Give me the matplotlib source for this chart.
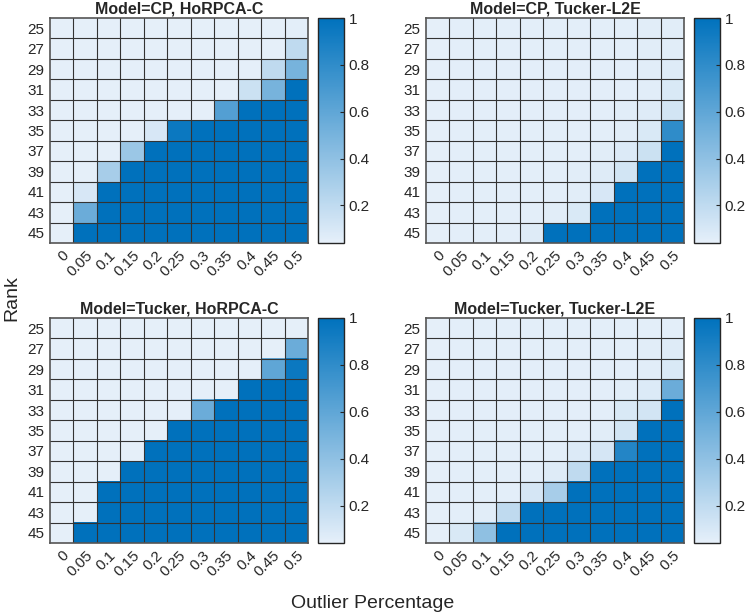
import numpy as np
import matplotlib
matplotlib.use("Agg")
import matplotlib.pyplot as plt
from matplotlib.colors import LinearSegmentedColormap

plt.rcParams['font.family'] = ['Liberation Sans', 'DejaVu Sans']

ranks = [25, 27, 29, 31, 33, 35, 37, 39, 41, 43, 45]
outliers = ['0', '0.05', '0.1', '0.15', '0.2', '0.25', '0.3', '0.35', '0.4', '0.45', '0.5']

# success rate, rows = rank, cols = outlier percentage
cp_horpca = [
    [.04, .04, .04, .04, .04, .04, .04, .04, .04, .04, .05],
    [.04, .04, .04, .04, .04, .04, .04, .04, .04, .04, .20],
    [.04, .04, .04, .04, .04, .04, .04, .04, .04, .20, .50],
    [.04, .04, .04, .04, .04, .04, .04, .04, .15, .50, 1.0],
    [.04, .04, .04, .04, .04, .04, .04, .65, 1.0, 1.0, 1.0],
    [.04, .04, .04, .04, .10, .95, 1.0, 1.0, 1.0, 1.0, 1.0],
    [.04, .04, .04, .35, 1.0, 1.0, 1.0, 1.0, 1.0, 1.0, 1.0],
    [.04, .04, .30, 1.0, 1.0, 1.0, 1.0, 1.0, 1.0, 1.0, 1.0],
    [.04, .10, 1.0, 1.0, 1.0, 1.0, 1.0, 1.0, 1.0, 1.0, 1.0],
    [.04, .55, 1.0, 1.0, 1.0, 1.0, 1.0, 1.0, 1.0, 1.0, 1.0],
    [.04, 1.0, 1.0, 1.0, 1.0, 1.0, 1.0, 1.0, 1.0, 1.0, 1.0],
]
cp_l2e = [
    [.04, .05, .05, .05, .05, .05, .05, .05, .05, .06, .06],
    [.04, .05, .05, .05, .05, .05, .05, .05, .05, .06, .06],
    [.04, .05, .05, .05, .05, .05, .05, .05, .05, .06, .07],
    [.04, .05, .05, .05, .05, .05, .05, .05, .05, .06, .09],
    [.04, .05, .05, .05, .05, .05, .05, .05, .06, .07, .12],
    [.04, .05, .05, .05, .05, .05, .05, .05, .06, .09, .80],
    [.04, .05, .05, .05, .05, .05, .05, .06, .08, .15, 1.0],
    [.04, .05, .05, .05, .05, .05, .06, .07, .12, 1.0, 1.0],
    [.04, .05, .05, .05, .05, .05, .06, .10, 1.0, 1.0, 1.0],
    [.04, .05, .05, .05, .05, .06, .09, 1.0, 1.0, 1.0, 1.0],
    [.04, .05, .05, .05, .07, 1.0, 1.0, 1.0, 1.0, 1.0, 1.0],
]
tk_horpca = [
    [.04, .04, .04, .04, .04, .04, .04, .04, .04, .04, .04],
    [.04, .04, .04, .04, .04, .04, .04, .04, .04, .04, .55],
    [.04, .04, .04, .04, .04, .04, .04, .04, .04, .60, .95],
    [.04, .04, .04, .04, .04, .04, .04, .04, 1.0, 1.0, 1.0],
    [.04, .04, .04, .04, .04, .04, .55, 1.0, 1.0, 1.0, 1.0],
    [.04, .04, .04, .04, .04, 1.0, 1.0, 1.0, 1.0, 1.0, 1.0],
    [.04, .04, .04, .04, 1.0, 1.0, 1.0, 1.0, 1.0, 1.0, 1.0],
    [.04, .04, .04, 1.0, 1.0, 1.0, 1.0, 1.0, 1.0, 1.0, 1.0],
    [.04, .04, 1.0, 1.0, 1.0, 1.0, 1.0, 1.0, 1.0, 1.0, 1.0],
    [.04, .04, 1.0, 1.0, 1.0, 1.0, 1.0, 1.0, 1.0, 1.0, 1.0],
    [.04, 1.0, 1.0, 1.0, 1.0, 1.0, 1.0, 1.0, 1.0, 1.0, 1.0],
]
tk_l2e = [
    [.04, .05, .05, .05, .05, .05, .05, .05, .05, .05, .05],
    [.04, .05, .05, .05, .05, .05, .05, .05, .05, .06, .07],
    [.04, .05, .05, .05, .05, .05, .05, .05, .05, .06, .09],
    [.04, .05, .05, .05, .05, .05, .05, .05, .06, .08, .55],
    [.04, .05, .05, .05, .05, .05, .05, .05, .09, .12, 1.0],
    [.04, .05, .05, .05, .05, .05, .05, .06, .12, 1.0, 1.0],
    [.04, .05, .05, .05, .05, .05, .08, .11, .85, 1.0, 1.0],
    [.04, .05, .05, .05, .05, .07, .20, 1.0, 1.0, 1.0, 1.0],
    [.04, .05, .05, .05, .11, .30, 1.0, 1.0, 1.0, 1.0, 1.0],
    [.04, .05, .06, .20, 1.0, 1.0, 1.0, 1.0, 1.0, 1.0, 1.0],
    [.04, .09, .40, 1.0, 1.0, 1.0, 1.0, 1.0, 1.0, 1.0, 1.0],
]

panels = [
    ('Model=CP, HoRPCA-C', cp_horpca),
    ('Model=CP, Tucker-L2E', cp_l2e),
    ('Model=Tucker, HoRPCA-C', tk_horpca),
    ('Model=Tucker, Tucker-L2E', tk_l2e),
]

cmap = LinearSegmentedColormap.from_list('mblue', [(0.90, 0.94, 0.98), (0.0, 0.447, 0.741)])

W, H = 747, 616
fig = plt.figure(figsize=(W / 100, H / 100), dpi=100)

# pixel boxes (left, top) for each heatmap
lefts = [50, 426, 50, 426]
tops = [18, 18, 318, 318]
aw, ah = 258, 225
cbw = 26
gap = 10

for (title, data), L, T in zip(panels, lefts, tops):
    z = np.array(data)
    ax = fig.add_axes([L / W, 1 - (T + ah) / H, aw / W, ah / H])
    m = ax.imshow(z, cmap=cmap, aspect='auto', interpolation='nearest',
                  extent=(0, len(outliers), len(ranks), 0))
    # cell borders
    for k in range(1, len(outliers)):
        ax.axvline(k, color='#333333', lw=0.8)
    for k in range(1, len(ranks)):
        ax.axhline(k, color='#333333', lw=0.8)
    ax.set_xlim(0, len(outliers))
    ax.set_ylim(len(ranks), 0)
    ax.set_xticks(np.arange(len(outliers)) + 0.5)
    ax.set_xticklabels(outliers, rotation=45, ha='right', va='top', rotation_mode='anchor', fontsize=11)
    ax.set_yticks(np.arange(len(ranks)) + 0.5)
    ax.set_yticklabels(ranks, fontsize=11)
    ax.tick_params(length=0, pad=4, colors='#262626')
    for s in ax.spines.values():
        s.set_color('#555555')
        s.set_linewidth(1.2)
    ax.set_title(title, fontsize=11.5, fontweight='bold', pad=3, color='#262626')

    cax = fig.add_axes([(L + aw + gap) / W, 1 - (T + ah) / H, cbw / W, ah / H])
    cb = fig.colorbar(m, cax=cax)
    cb.set_ticks([0.2, 0.4, 0.6, 0.8, 1])
    cb.set_ticklabels(['0.2', '0.4', '0.6', '0.8', '1'])
    cb.ax.tick_params(labelsize=11, direction='in', length=3, colors='#262626')
    cb.outline.set_edgecolor('#262626')
    cb.outline.set_linewidth(1.0)

fig.text(12 / W, 1 - 298 / H, 'Rank', rotation=90, ha='center', va='center', fontsize=14, color='#262626')
fig.text(373 / W, 1 - 603 / H, 'Outlier Percentage', ha='center', va='center', fontsize=14, color='#262626')

fig.savefig('out.png', dpi=100)
